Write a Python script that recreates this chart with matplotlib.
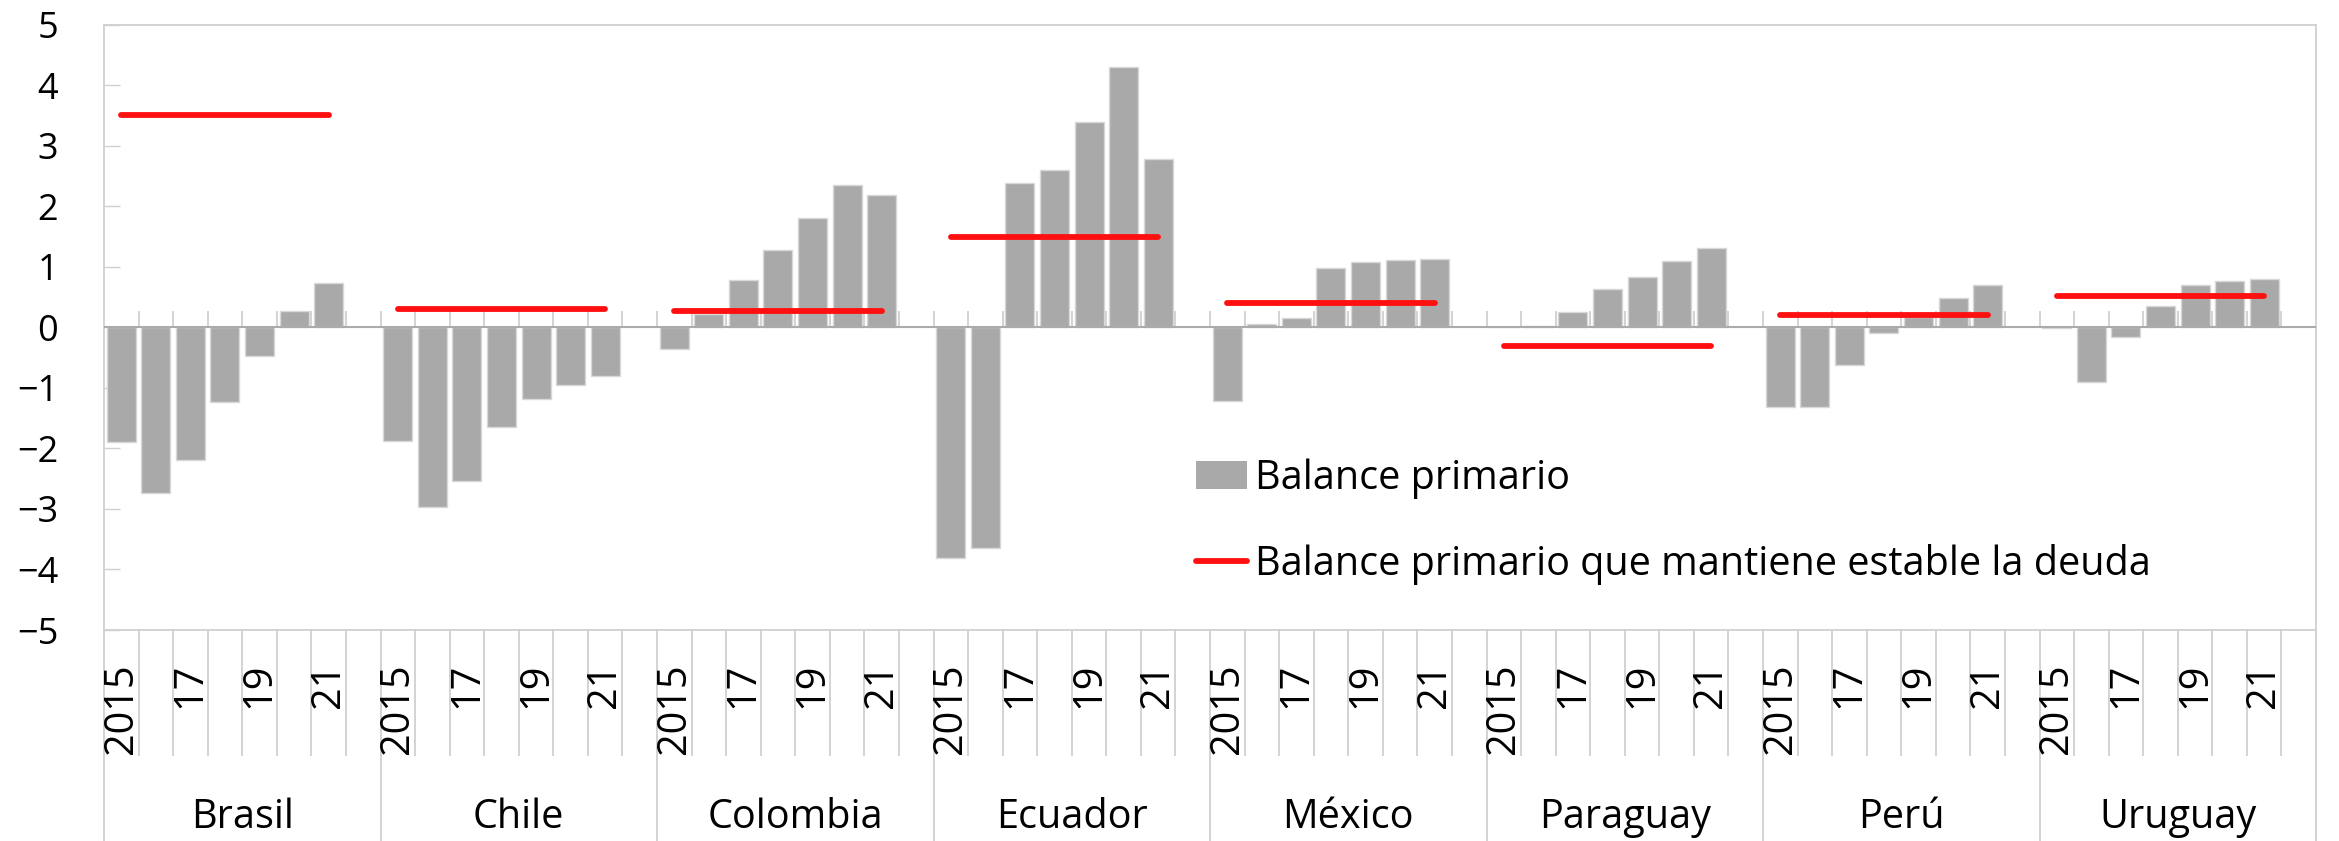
import matplotlib
matplotlib.use("Agg")
import numpy as np
import matplotlib.pyplot as plt
from matplotlib.patches import Patch
from matplotlib.lines import Line2D

plt.rcParams["font.family"] = ["Open Sans", "DejaVu Sans"]

# --- data ---
countries = ["Brasil", "Chile", "Colombia", "Ecuador", "México", "Paraguay", "Perú", "Uruguay"]
year_labels = ["2015", "", "17", "", "19", "", "21"]

balance = {
    "Brasil":   [-1.89, -2.74, -2.19, -1.23, -0.48, 0.27, 0.73],
    "Chile":    [-1.88, -2.97, -2.54, -1.65, -1.19, -0.96, -0.81],
    "Colombia": [-0.35, 0.22, 0.78, 1.28, 1.81, 2.35, 2.19],
    "Ecuador":  [-3.81, -3.65, 2.38, 2.60, 3.39, 4.30, 2.78],
    "México":   [-1.22, 0.05, 0.16, 0.98, 1.08, 1.11, 1.13],
    "Paraguay": [0.00, 0.02, 0.26, 0.63, 0.83, 1.09, 1.31],
    "Perú":     [-1.31, -1.32, -0.62, -0.09, 0.17, 0.48, 0.70],
    "Uruguay":  [-0.01, -0.90, -0.16, 0.35, 0.70, 0.77, 0.80],
}
stable = [3.50, 0.30, 0.27, 1.50, 0.40, -0.30, 0.20, 0.51]

GRAY = "#A9A9A9"
RED = "#FF1010"
FRAME = "#D0D0D0"
SLOTS = 8  # 7 years + one empty slot per country

W, H = 2339, 841
fig = plt.figure(figsize=(W / 100, H / 100), dpi=100)
left, right, top, bottom = 104, 2316, 24.7, 630
ax = fig.add_axes([left / W, 1 - bottom / H, (right - left) / W, (bottom - top) / H])
ax_h = bottom - top

n = len(countries)
ax.set_xlim(0, n * SLOTS)
ax.set_ylim(-5, 5)

for g, c in enumerate(countries):
    x = g * SLOTS + np.arange(7) + 0.5
    ax.bar(x, balance[c], width=0.84, color=GRAY, edgecolor="#D8D8D8", linewidth=1, zorder=2)
    ax.plot([x[0], x[-1]], [stable[g]] * 2, color=RED, lw=4.2, solid_capstyle="round", zorder=4)

# zero line and its small ticks
ax.axhline(0, color="#ABABAB", lw=1.5, zorder=3)
ax.vlines(np.arange(1, n * SLOTS), 0, 16 / ax_h * 10, color=FRAME, lw=1.3, zorder=1)

# y axis
ax.set_yticks(np.arange(-5, 6, 1))
ax.set_yticklabels([str(v).replace("-", "\u2212") for v in range(-5, 6)])
ax.tick_params(axis="y", direction="in", length=11.5, width=1, color=FRAME,
               labelsize=26, pad=33)
ax.set_xticks([])
for s in ax.spines.values():
    s.set_color(FRAME)
    s.set_linewidth(1.3)

# multi-level category axis below the plot
tr = ax.get_xaxis_transform()
for k in range(0, n * SLOTS + 1):
    y_end = -(H - bottom) / ax_h if k % SLOTS == 0 else -(755 - bottom) / ax_h
    ax.plot([k, k], [0, y_end], transform=tr, color=FRAME, lw=1.3, clip_on=False)
for g, c in enumerate(countries):
    for i, lab in enumerate(year_labels):
        if lab:
            ax.text(g * SLOTS + i + 0.5, -33 / ax_h, lab, transform=tr, rotation=90,
                    ha="center", va="top", fontsize=28.5)
    ax.text(g * SLOTS + SLOTS / 2, -(818 - bottom) / ax_h, c, transform=tr,
            ha="center", va="center", fontsize=28.5)

handles = [Patch(facecolor=GRAY, edgecolor="none"),
           Line2D([0], [0], color=RED, lw=4.2, solid_capstyle="round")]
labels = ["Balance primario", "Balance primario que mantiene estable la deuda"]
ax.legend(handles, labels, loc="upper left",
          bbox_to_anchor=((1196 - left) / (right - left), 1 - (458 - top) / ax_h),
          frameon=False, fontsize=28.5, handlelength=1.3, handletextpad=0.2,
          labelspacing=1.15, borderaxespad=0, borderpad=0)

fig.savefig("out.png", dpi=100)
